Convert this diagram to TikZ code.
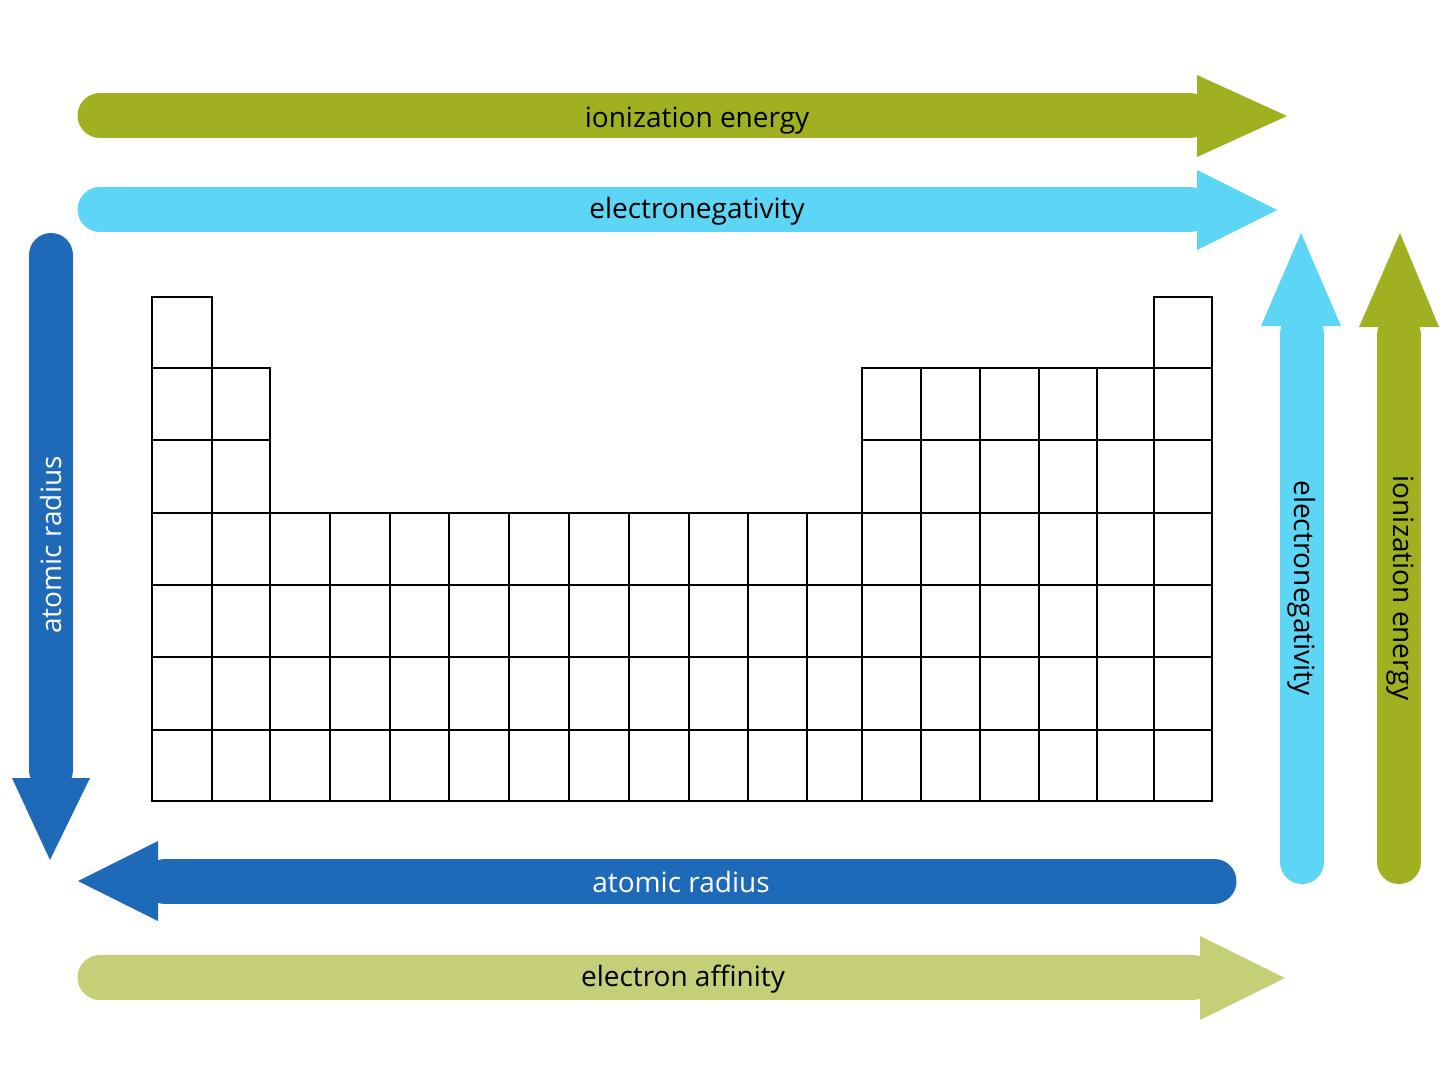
\documentclass[tikz,border=0pt]{standalone}
\usepackage{fontspec}
\setmainfont{Open Sans}
\definecolor{olive}{HTML}{A0B020}
\definecolor{sky}{HTML}{5DD5F5}
\definecolor{royal}{HTML}{1F6AB8}
\definecolor{lime}{HTML}{C4CF78}
\begin{document}
\begin{tikzpicture}[x=1pt,y=-1pt,
  lbl/.style={font=\fontsize{28}{30}\selectfont,inner sep=0pt},
  shaft/.style={line width=45pt,line cap=round},
  cell/.style={draw=black,line width=1.6pt}]
\useasboundingbox (0,0) rectangle (1454,1082);
% horizontal arrows
\draw[shaft,olive] (100,115.5) -- (1190,115.5);
\fill[olive] (1197,75) -- (1287,116) -- (1197,157) -- cycle;
\node[lbl] (ie1) at (697,121) {ionization energy};
\draw[shaft,sky] (100,209.5) -- (1190,209.5);
\fill[sky] (1197,170) -- (1277,210) -- (1197,250) -- cycle;
\node[lbl] (en1) at (697,211) {electronegativity};
\draw[shaft,royal] (1214,881) -- (165,881);
\fill[royal] (158,841) -- (78,881) -- (158,921) -- cycle;
\node[lbl,white] (ar1) at (681,882) {atomic radius};
\draw[shaft,lime] (100,977.5) -- (1193,977.5);
\fill[lime] (1200,936) -- (1285,978) -- (1200,1020) -- cycle;
\node[lbl] (ea1) at (683,979) {electron affinity};
% vertical arrows
\draw[shaft,line width=44pt,royal] (51,255) -- (51,770);
\fill[royal] (12,778) -- (90,778) -- (50,860) -- cycle;
\node[lbl,white,rotate=90] (ar2) at (51,545) {atomic radius};
\draw[shaft,line width=44pt,sky] (1302,862) -- (1302,334);
\fill[sky] (1261,326) -- (1301,233) -- (1341,326) -- cycle;
\node[lbl,rotate=-90] (en2) at (1302,588) {electronegativity};
\draw[shaft,line width=44pt,olive] (1399,862) -- (1399,335);
\fill[olive] (1359,327) -- (1400,233) -- (1439,327) -- cycle;
\node[lbl,rotate=-90] (ie2) at (1400,588) {ionization energy};
% table
\def\xs{{152,212,270,330,390,449,509,569,629,689,748,807,862,921,980,1039,1097,1154,1212}}
\def\ys{{297,368,440,513,585,657,730,801}}
\foreach \c in {1,18} {
  \pgfmathsetmacro\xa{\xs[\c-1]}\pgfmathsetmacro\xb{\xs[\c]}
  \draw[cell] (\xa,297) rectangle (\xb,368);}
\foreach \r in {2,3} \foreach \c in {1,2,13,14,15,16,17,18} {
  \pgfmathsetmacro\xa{\xs[\c-1]}\pgfmathsetmacro\xb{\xs[\c]}
  \pgfmathsetmacro\ya{\ys[\r-1]}\pgfmathsetmacro\yb{\ys[\r]}
  \draw[cell] (\xa,\ya) rectangle (\xb,\yb);}
\foreach \r in {4,...,7} \foreach \c in {1,...,18} {
  \pgfmathsetmacro\xa{\xs[\c-1]}\pgfmathsetmacro\xb{\xs[\c]}
  \pgfmathsetmacro\ya{\ys[\r-1]}\pgfmathsetmacro\yb{\ys[\r]}
  \draw[cell] (\xa,\ya) rectangle (\xb,\yb);}
\end{tikzpicture}
\end{document}
